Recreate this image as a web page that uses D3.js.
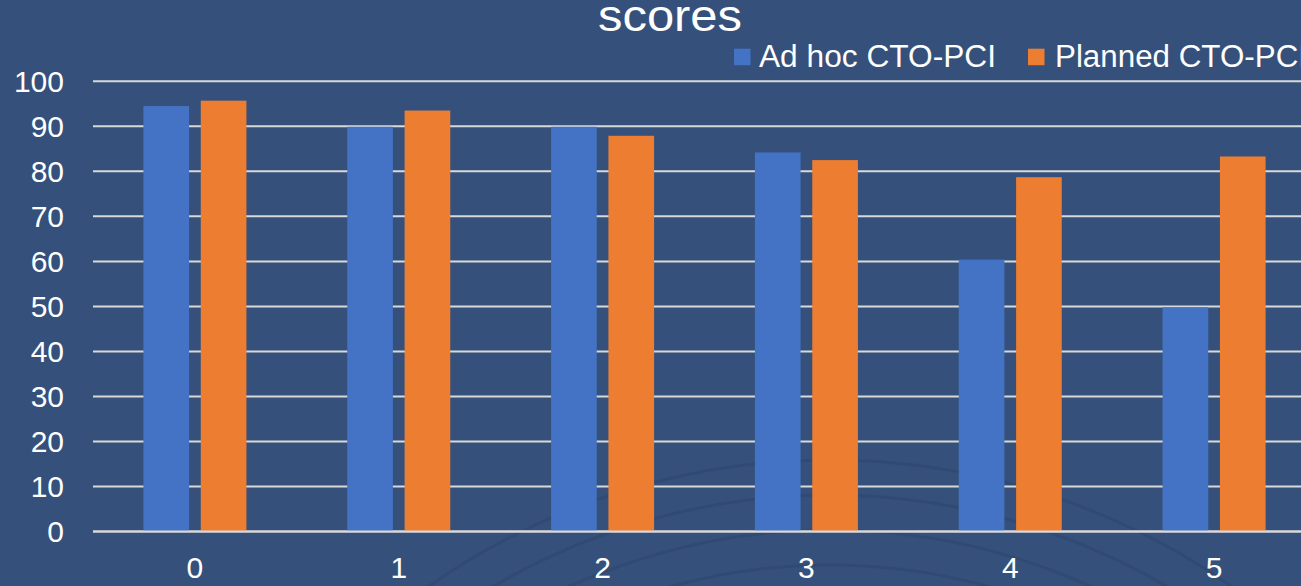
<!doctype html>
<html lang="en">
<head>
  <meta charset="utf-8">
  <title>scores</title>
  <script src="https://cdn.jsdelivr.net/npm/d3@7"></script>
  <style>
    html, body { margin: 0; padding: 0; background: #35517b; overflow: hidden; }
    svg { display: block; font-family: "Liberation Sans", Arial, Helvetica, sans-serif; }
    .tick-label { fill: #ffffff; font-size: 30px; }
    .grid { stroke: #d9d9d9; stroke-width: 2px; }
  </style>
</head>
<body>
<svg width="1301" height="586"></svg>
<script>
  // chart data
  var categories = ["0", "1", "2", "3", "4", "5"];
  var seriesNames = ["Ad hoc CTO-PCI", "Planned CTO-PCI"];
  var adHoc = [94.5, 89.9, 89.9, 84.2, 60.4, 49.8];
  var planned = [95.7, 93.5, 87.9, 82.5, 78.7, 83.3];
  var yTicks = [0, 10, 20, 30, 40, 50, 60, 70, 80, 90, 100];
  var colors = ["#4472c4", "#ed7d31"];

  var svg = d3.select("svg"),
      width = +svg.attr("width"),
      height = +svg.attr("height");

  // faint background arcs
  var arcs = svg.append("g");
  [700, 665, 630, 595, 560].forEach(function (r) {
    arcs.append("circle")
      .attr("cx", 830).attr("cy", 1160).attr("r", r)
      .attr("fill", "none")
      .attr("stroke", "#2a436b")
      .attr("stroke-width", 3)
      .attr("opacity", 0.45);
  });

  var x0 = d3.scaleBand()
    .domain(categories)
    .range([93, 1316])
    .padding(0);

  var x1 = d3.scaleBand()
    .domain(seriesNames)
    .range([0, x0.bandwidth()])
    .paddingInner(0.204)
    .paddingOuter(0.879);

  var y = d3.scaleLinear()
    .domain([0, 100])
    .range([531.5, 81.3]);

  // gridlines
  svg.append("g").selectAll("line")
    .data(yTicks)
    .enter().append("line")
    .attr("class", "grid")
    .attr("x1", 93).attr("x2", width + 20)
    .attr("y1", function (d) { return y(d); })
    .attr("y2", function (d) { return y(d); });

  // y labels
  svg.append("g").selectAll("text")
    .data(yTicks)
    .enter().append("text")
    .attr("class", "tick-label")
    .attr("x", 64)
    .attr("y", function (d) { return y(d); })
    .attr("dy", "0.36em")
    .attr("text-anchor", "end")
    .text(function (d) { return d; });

  // bars
  var rows = categories.map(function (c, i) {
    return { cat: c, values: [adHoc[i], planned[i]] };
  });

  var groups = svg.append("g").selectAll("g")
    .data(rows)
    .enter().append("g")
    .attr("transform", function (d) { return "translate(" + x0(d.cat) + ",0)"; });

  groups.selectAll("rect")
    .data(function (d) { return d.values.map(function (v, k) { return { key: seriesNames[k], value: v, k: k }; }); })
    .enter().append("rect")
    .attr("x", function (d) { return x1(d.key); })
    .attr("width", x1.bandwidth())
    .attr("y", function (d) { return y(d.value); })
    .attr("height", function (d) { return y(0) - y(d.value); })
    .attr("fill", function (d) { return colors[d.k]; });

  // zero line on top
  svg.append("line")
    .attr("class", "grid")
    .attr("x1", 93).attr("x2", width + 20)
    .attr("y1", y(0)).attr("y2", y(0));

  // x labels
  svg.append("g").selectAll("text")
    .data(categories)
    .enter().append("text")
    .attr("class", "tick-label")
    .attr("x", function (d) { return x0(d) + x0.bandwidth() / 2; })
    .attr("y", 578)
    .attr("text-anchor", "middle")
    .text(function (d) { return d; });

  // title
  svg.append("text")
    .attr("x", 670)
    .attr("y", 31)
    .attr("text-anchor", "middle")
    .attr("fill", "#ffffff")
    .attr("font-size", "44px")
    .attr("textLength", 144)
    .attr("lengthAdjust", "spacingAndGlyphs")
    .text("scores");

  // legend
  var legendX = [734, 1028];
  var legendLen = [237, 252];
  var legend = svg.append("g").selectAll("g")
    .data(seriesNames)
    .enter().append("g")
    .attr("transform", function (d, i) { return "translate(" + legendX[i] + ",0)"; });

  legend.append("rect")
    .attr("x", 0).attr("y", 48.7)
    .attr("width", 16.5).attr("height", 16.5)
    .attr("fill", function (d, i) { return colors[i]; });

  legend.append("text")
    .attr("x", function (d, i) { return i === 0 ? 25 : 27; })
    .attr("y", 66.7)
    .attr("fill", "#ffffff")
    .attr("font-size", "31px")
    .attr("textLength", function (d, i) { return legendLen[i]; })
    .attr("lengthAdjust", "spacingAndGlyphs")
    .text(function (d) { return d; });
</script>
</body>
</html>
